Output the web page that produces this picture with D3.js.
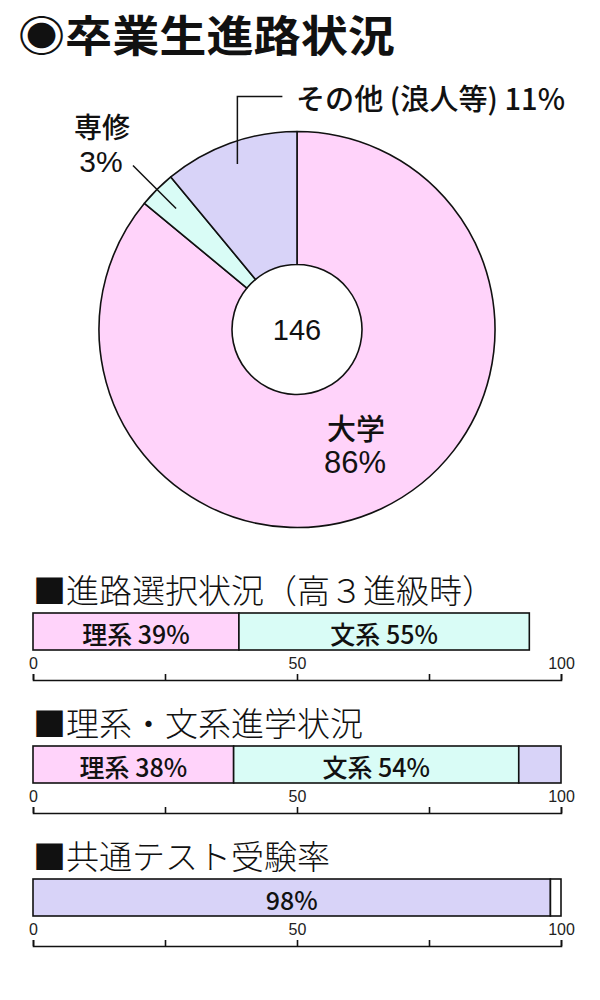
<!DOCTYPE html>
<html><head><meta charset="utf-8">
<script src="https://cdn.jsdelivr.net/npm/d3@7"></script>
<style>
html,body{margin:0;padding:0;background:#fff;}
svg{display:block;}
</style></head>
<body>
<svg id="c" width="600" height="1000"></svg>
<script>
// ---- data ----
const chartTitle = "◉卒業生進路状況";
const pieCategories = ["大学", "専修", "その他 (浪人等) "];
const pieValues = [86, 3, 11];
const pieTotal = "146";

const barTitles = ["■進路選択状況（高３進級時）", "■理系・文系進学状況", "■共通テスト受験率"];
const bar1Categories = ["理系", "文系"];
const bar1Values = [39, 55];
const bar2Categories = ["理系", "文系", "その他"];
const bar2Values = [38, 54, 8];
const bar3Categories = ["受験", "未受験"];
const bar3Values = [98, 2];
const tickValues = [0, 25, 50, 75, 100];
const tickLabels = ["0", "", "50", "", "100"];

// ---- styles ----
const PINK = "#FFD3FA", MINT = "#D9FCF6", LAV = "#D8D3F8", WHITE = "#FFFFFF";
const JP = "'Liberation Sans','Noto Sans CJK JP',sans-serif";
const JPONLY = "'Noto Sans CJK JP',sans-serif";
const NARROW = "'Liberation Sans Narrow','Liberation Sans',sans-serif";

const svg = d3.select("#c");

// title
svg.append("text").attr("x", 18).attr("y", 33)
  .attr("dominant-baseline", "central")
  .attr("font-family", JPONLY).attr("font-weight", 700).attr("font-size", 43)
  .attr("textLength", 377).attr("lengthAdjust", "spacingAndGlyphs")
  .attr("fill", "#111").text(chartTitle);

// ---- pie ----
const cx = 297, cy = 329.5, rOut = 198, rIn = 65;
const pieColors = d3.scaleOrdinal().domain(pieCategories).range([PINK, MINT, LAV]);
const pie = d3.pie().sort(null).value(d => d.v);
const arcs = pie(pieCategories.map((c, i) => ({c, v: pieValues[i]})));
const arc = d3.arc().innerRadius(rIn).outerRadius(rOut);
const pg = svg.append("g").attr("transform", `translate(${cx},${cy})`);
pg.selectAll("path").data(arcs).join("path")
  .attr("d", arc).attr("fill", d => pieColors(d.data.c))
  .attr("stroke", "#111").attr("stroke-width", 1.6).attr("stroke-linejoin", "round");

pg.append("text").attr("x", 0).attr("y", 0).attr("text-anchor", "middle")
  .attr("dominant-baseline", "central").attr("font-family", JP).attr("font-size", 29)
  .attr("fill", "#111").text(pieTotal);

function polar(a, r) { return [Math.sin(a) * r, -Math.cos(a) * r]; }
const mid = d => (d.startAngle + d.endAngle) / 2;

// 大学 label
const aUni = arcs[0];
pg.append("text").attr("x", 59).attr("y", 97).attr("text-anchor", "middle")
  .attr("dominant-baseline", "central").attr("font-family", JPONLY).attr("font-weight", 500)
  .attr("font-size", 29).attr("fill", "#111").text(aUni.data.c);
pg.append("text").attr("x", 58).attr("y", 133).attr("text-anchor", "middle")
  .attr("dominant-baseline", "central").attr("font-family", JP)
  .attr("font-size", 31).attr("fill", "#111").text(aUni.data.v + "%");

// 専修 label + leader
const aSen = arcs[1];
const s1 = polar(mid(aSen), 171), s2 = polar(mid(aSen), 232);
pg.append("line").attr("x1", s1[0]).attr("y1", s1[1]).attr("x2", s2[0]).attr("y2", s2[1])
  .attr("stroke", "#111").attr("stroke-width", 1.5);
pg.append("text").attr("x", -195).attr("y", -204).attr("text-anchor", "middle")
  .attr("dominant-baseline", "central").attr("font-family", JPONLY).attr("font-weight", 500)
  .attr("font-size", 28).attr("fill", "#111").text(aSen.data.c);
pg.append("text").attr("x", -196).attr("y", -168).attr("text-anchor", "middle")
  .attr("dominant-baseline", "central").attr("font-family", JP)
  .attr("font-size", 30).attr("fill", "#111").text(aSen.data.v + "%");

// その他 label + leader
const aOth = arcs[2];
const o1 = polar(mid(aOth), 176);
const oy = -233;
pg.append("path").attr("d", `M${o1[0]},${o1[1]}V${oy}H${o1[0] + 45}`)
  .attr("fill", "none").attr("stroke", "#111").attr("stroke-width", 1.5);
pg.append("text").attr("x", -1).attr("y", oy).attr("dominant-baseline", "central")
  .attr("font-family", JPONLY).attr("font-weight", 500).attr("font-size", 29)
  .attr("textLength", 269).attr("lengthAdjust", "spacingAndGlyphs")
  .attr("fill", "#111").text(aOth.data.c + aOth.data.v + "%");

// ---- stacked bars ----
const x = d3.scaleLinear().domain([0, 100]).range([33, 561]);
const barH = 37;

function drawBar(title, top, cats, vals, colors, labels, showLabel, outline) {
  svg.append("text").attr("x", 33).attr("y", top - 24).attr("dominant-baseline", "central")
    .attr("font-family", JPONLY).attr("font-weight", 300).attr("font-size", 33)
    .attr("fill", "#111").text(title);
  let acc = 0;
  const segs = cats.map((c, i) => {
    const s = {c, v: vals[i], x0: acc, color: colors[i], label: labels[i], show: showLabel[i], out: outline[i]};
    acc += vals[i]; s.x1 = acc; return s;
  });
  const g = svg.append("g");
  g.selectAll("rect").data(segs.filter(s => s.out)).join("rect")
    .attr("x", d => x(d.x0)).attr("y", top)
    .attr("width", d => x(d.x1) - x(d.x0)).attr("height", barH)
    .attr("fill", d => d.color)
    .attr("stroke", "#111").attr("stroke-width", 1.6);
  g.selectAll("text").data(segs.filter(s => s.show)).join("text")
    .attr("x", d => (x(d.x0) + x(d.x1)) / 2).attr("y", top + barH / 2 + 1)
    .attr("text-anchor", "middle").attr("dominant-baseline", "central")
    .attr("font-family", JPONLY).attr("font-weight", 500).attr("font-size", 25).attr("fill", "#111")
    .text(d => d.label);
  const ax = d3.axisTop(x).tickValues(tickValues)
    .tickFormat((d, i) => tickLabels[i]).tickSize(6).tickSizeOuter(6).tickPadding(5);
  const ag = svg.append("g").attr("transform", `translate(0,${top + barH + 30})`).call(ax);
  ag.attr("font-size", 16).attr("font-family", NARROW);
  ag.select(".domain").attr("stroke", "#111").attr("stroke-width", 1.6);
  ag.selectAll(".tick line").attr("stroke", "#111").attr("stroke-width", 1.6);
  ag.selectAll(".tick text").attr("fill", "#222");
  return segs;
}

const fmtCat = (c, v) => `${c} ${v}%`;
drawBar(barTitles[0], 613, bar1Categories, bar1Values, [PINK, MINT],
  bar1Categories.map((c, i) => fmtCat(c, bar1Values[i])), [true, true], [true, true]);
drawBar(barTitles[1], 746, bar2Categories, bar2Values, [PINK, MINT, LAV],
  bar2Categories.map((c, i) => fmtCat(c, bar2Values[i])), [true, true, false], [true, true, true]);
drawBar(barTitles[2], 879, bar3Categories, bar3Values, [LAV, WHITE],
  bar3Values.map(v => `${v}%`), [true, false], [true, true]);
</script>
</body></html>
